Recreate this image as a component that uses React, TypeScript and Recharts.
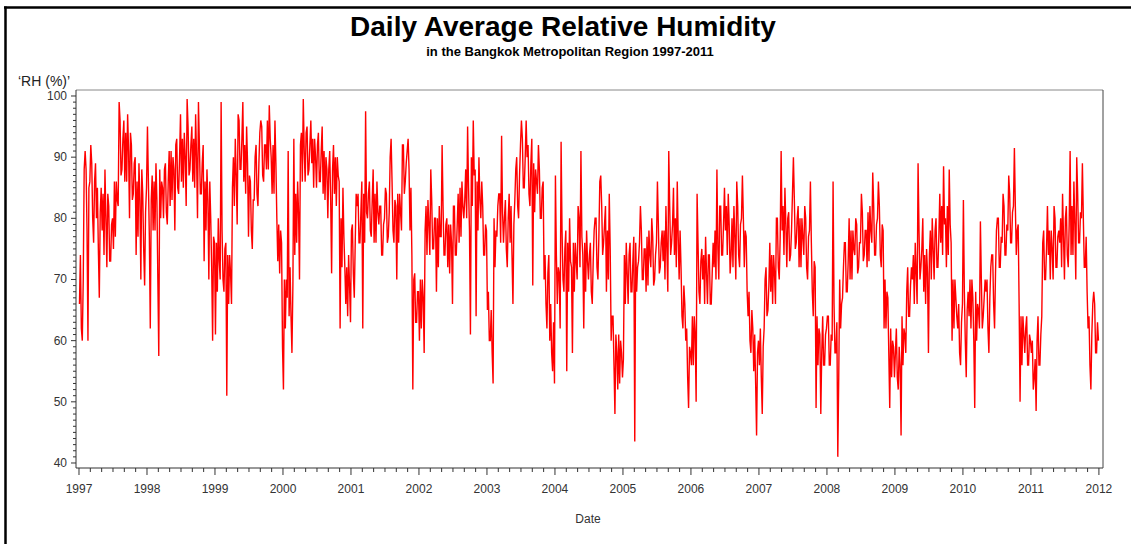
import React from "react";
import { LineChart, Line, XAxis, YAxis } from "recharts";

// Daily average RH, six readings per month, one array per year
const years = [1997, 1998, 1999, 2000, 2001, 2002, 2003, 2004, 2005, 2006, 2007, 2008, 2009, 2010, 2011];

const rh1997 = [
  66, 74, 62, 60, 70, 88, 91, 88, 78, 60, 85, 86, 92, 89, 80, 76, 86, 89, 80, 85, 75, 67, 81, 85,
  78, 84, 74, 88, 80, 72, 84, 82, 73, 73, 79, 80, 75, 86, 77, 86, 83, 82, 99, 96, 87, 88, 93, 96,
  86, 94, 86, 97, 91, 80, 94, 92, 83, 84, 89, 90, 74, 86, 77, 89, 83, 70, 88, 84, 75, 69, 81, 85,
];
const rh1998 = [
  95, 86, 77, 62, 83, 87, 78, 86, 78, 89, 83, 70, 57.5, 88, 80, 86, 85, 80, 88, 89, 81, 79, 86, 91,
  82, 91, 83, 90, 88, 78, 92, 93, 85, 84, 90, 97, 86, 93, 85, 94, 90, 82, 99.5, 95, 87, 88, 92, 95,
  86, 93, 85, 97, 90, 80, 99, 92, 84, 84, 89, 92, 73, 86, 78, 88, 83, 70, 86, 80, 72, 60, 77, 76,
];
const rh1999 = [
  61, 76, 68, 80, 73, 70, 99, 78, 70, 68, 75, 76, 51, 74, 66, 74, 71, 66, 85, 90, 82, 93, 87, 79,
  97, 96, 88, 88, 93, 99, 86, 92, 84, 95, 89, 77, 87, 86, 78, 75, 83, 83, 90, 92, 84, 82, 89, 94,
  96, 95, 87, 86, 92, 92, 88, 96, 88, 98.5, 93, 90, 84, 92, 84, 96, 89, 80, 73, 79, 71, 78, 76, 59,
];
const rh2000 = [
  52, 70, 62, 70, 67, 91, 64, 72, 64, 58, 69, 93, 74, 84, 76, 86, 81, 70, 92, 94, 86, 99.5, 91, 86,
  94, 95, 87, 88, 92, 96, 89, 93, 85, 93, 90, 85, 92, 94, 86, 86, 91, 95, 84, 91, 83, 90, 88, 80,
  88, 91, 83, 71, 88, 92, 84, 90, 82, 90, 87, 86, 62, 80, 72, 85, 77, 72, 66, 72, 64, 74, 69, 63,
];
const rh2001 = [
  78, 79, 71, 67, 76, 84, 82, 84, 76, 76, 81, 86, 62, 84, 76, 97.5, 81, 80, 84, 86, 78, 77, 83, 88,
  76, 84, 76, 86, 81, 79, 82, 82, 74, 74, 79, 80, 85, 84, 76, 77, 81, 90, 93, 86, 78, 76, 83, 82,
  70, 84, 76, 84, 81, 78, 92, 92, 84, 86, 89, 91, 93, 88, 78, 85, 74, 52, 70, 71, 63, 63, 68, 68,
];
const rh2002 = [
  60, 70, 62, 70, 67, 58, 78, 82, 74, 83, 79, 74, 88, 83, 75, 75, 80, 80, 68, 80, 72, 82, 77, 77,
  92, 82, 74, 74, 79, 80, 72, 79, 71, 79, 76, 66, 82, 82, 74, 74, 79, 84, 76, 85, 77, 86, 82, 80,
  83, 88, 80, 95, 85, 78, 61, 90, 82, 96, 87, 88, 64, 86, 78, 90, 83, 80, 86, 82, 74, 74, 79, 78,
];
const rh2003 = [
  65, 68, 60, 60, 65, 58, 53, 80, 72, 78, 77, 82, 84, 84, 76, 93.5, 81, 76, 80, 83, 75, 72, 80, 84,
  76, 82, 74, 66, 79, 83, 88, 90, 82, 80, 87, 92, 96, 93, 85, 85, 90, 96, 90, 92, 84, 82, 89, 93,
  69, 89, 81, 88, 86, 84, 92, 88, 80, 80, 85, 86, 70, 74, 66, 62, 71, 74, 60, 66, 58, 55, 63, 53,
];
const rh2004 = [
  87, 74, 66, 72, 71, 62, 92.5, 78, 70, 68, 75, 78, 55, 76, 68, 80, 73, 72, 58, 76, 68, 76, 73, 70,
  82, 80, 72, 91, 77, 74, 62, 76, 68, 78, 73, 70, 74, 76, 68, 66, 73, 78, 80, 80, 72, 70, 77, 86,
  87, 82, 74, 76, 79, 82, 68, 78, 70, 84, 75, 60, 64, 64, 56, 48, 61, 58, 52, 61, 53, 60, 58, 54,
];
const rh2005 = [
  57, 74, 66, 76, 71, 66, 74, 76, 68, 68, 73, 77, 43.5, 76, 68, 72, 73, 76, 82, 78, 70, 70, 75, 75,
  68, 77, 69, 78, 74, 72, 80, 77, 69, 70, 74, 76, 86, 79, 71, 72, 76, 78, 73, 78, 70, 82, 75, 68,
  91, 82, 74, 76, 79, 85, 74, 80, 72, 86, 77, 70, 78, 72, 64, 62, 69, 66, 60, 62, 54, 49, 59, 58,
];
const rh2006 = [
  56, 64, 56, 64, 61, 50, 84, 76, 68, 66, 73, 75, 70, 74, 66, 77, 71, 66, 74, 74, 66, 66, 71, 76,
  72, 78, 70, 88, 75, 70, 82, 82, 74, 74, 79, 85, 78, 82, 74, 84, 79, 71, 74, 80, 72, 82, 77, 70,
  86, 82, 74, 72, 79, 80, 87, 80, 72, 78, 77, 68, 64, 68, 60, 58, 65, 62, 55, 61, 53, 44.5, 58, 60,
];
const rh2007 = [
  56, 62, 54, 48, 59, 62, 70, 72, 64, 65, 69, 76, 68, 74, 66, 74, 71, 66, 80, 80, 72, 70, 77, 91,
  78, 82, 74, 85, 79, 72, 80, 81, 73, 74, 78, 84, 90, 83, 75, 76, 80, 82, 72, 80, 72, 80, 77, 74,
  82, 80, 72, 70, 77, 78, 86, 76, 68, 64, 73, 72, 49, 64, 56, 62, 61, 48, 58, 64, 56, 56, 61, 62,
];
const rh2008 = [
  64, 64, 56, 56, 61, 60, 86, 66, 58, 58, 63, 41, 54, 70, 62, 66, 67, 72, 76, 76, 68, 68, 73, 80,
  70, 78, 70, 78, 75, 74, 80, 79, 71, 72, 76, 76, 84, 81, 73, 74, 78, 78, 72, 81, 73, 82, 78, 76,
  87.5, 82, 74, 74, 79, 80, 86, 82, 74, 72, 79, 78, 62, 70, 62, 68, 67, 58, 49, 62, 54, 60, 59, 54,
];
const rh2009 = [
  58, 62, 54, 52, 59, 56, 44.5, 64, 56, 62, 61, 58, 68, 72, 64, 64, 69, 72, 70, 74, 66, 76, 71, 66,
  89, 78, 70, 72, 75, 80, 68, 74, 66, 75, 71, 58, 74, 78, 70, 80, 75, 70, 78, 80, 72, 72, 77, 84,
  76, 82, 74, 88.5, 79, 80, 72, 82, 74, 88, 79, 76, 60, 70, 62, 70, 67, 64, 62, 66, 58, 56, 63, 66,
];
const rh2010 = [
  83, 68, 60, 54, 65, 68, 64, 70, 62, 70, 67, 60, 49, 68, 60, 66, 65, 62, 79.5, 70, 62, 64, 67, 70,
  68, 70, 62, 58, 67, 72, 74, 74, 66, 62, 71, 78, 80, 80, 72, 72, 77, 76, 84, 82, 74, 74, 79, 78,
  87, 84, 76, 76, 81, 82, 91.5, 82, 74, 78, 79, 66, 50, 64, 56, 64, 61, 58, 62, 64, 56, 56, 61, 60,
];
const rh2011 = [
  58, 60, 52, 54, 57, 48.5, 60, 64, 56, 56, 61, 64, 76, 78, 70, 70, 75, 82, 74, 78, 70, 78, 75, 70,
  82, 80, 72, 72, 77, 78, 76, 80, 72, 84, 77, 70, 80, 82, 74, 72, 79, 91, 74, 82, 74, 86, 79, 70,
  90, 84, 76, 76, 81, 80, 89, 80, 72, 72, 77, 68, 62, 64, 56, 52, 61, 66, 68, 66, 58, 58, 63, 60,
];

const yearly = [rh1997, rh1998, rh1999, rh2000, rh2001, rh2002, rh2003, rh2004, rh2005, rh2006, rh2007, rh2008, rh2009, rh2010, rh2011];

const yLabels = [40, 50, 60, 70, 80, 90, 100];
const yearTicks = [1997, 1998, 1999, 2000, 2001, 2002, 2003, 2004, 2005, 2006, 2007, 2008, 2009, 2010, 2011, 2012];

const data = years.flatMap((yr, k) =>
  yearly[k].map((v, i) => ({ t: yr + (i + 0.5) / yearly[k].length, rh: v })),
);

// bimonthly minor ticks on the date axis, one-unit minor ticks on RH
const xTicks = yearTicks.flatMap((yr, k) =>
  k === yearTicks.length - 1 ? [yr] : [0, 1, 2, 3, 4, 5].map((m) => yr + m / 6),
);
const yTicks = Array.from({ length: 61 }, (_, i) => 40 + i);

const X_DOMAIN: [number, number] = [1996.956, 2012.06];
const Y_DOMAIN: [number, number] = [39.18, 100.98];
const FONT = "Arial, 'Liberation Sans', Helvetica, sans-serif";
const AXIS = "#333";

function DateTick({ x, y, payload }: any) {
  const v = payload.value as number;
  const yr = Math.round(v);
  const major = Math.abs(v - yr) < 1e-6;
  return (
    <g>
      <line x1={x} x2={x} y1={y} y2={y + (major ? 7 : 4)} stroke={AXIS} strokeWidth={1} />
      {major && (
        <text x={x} y={y + 25} textAnchor="middle" fontSize={12} fontFamily={FONT} fill="#333">
          {yr}
        </text>
      )}
    </g>
  );
}

function RhTick({ x, y, payload }: any) {
  const v = payload.value as number;
  const major = yLabels.includes(v);
  return (
    <g>
      <line x1={x - (major ? 5 : 3)} x2={x} y1={y} y2={y} stroke={AXIS} strokeWidth={1} />
      {major && (
        <text x={x - 9} y={y + 4} textAnchor="end" fontSize={12} fontFamily={FONT} fill="#333">
          {v}
        </text>
      )}
    </g>
  );
}

export default function App() {
  return (
    <div style={{ position: "absolute", left: 0, top: 0, width: 1131, height: 544, background: "#fff" }}>
      <LineChart
        width={1131}
        height={544}
        data={data}
        margin={{ top: 80, right: 18, bottom: 36, left: 16 }}
      >
        <XAxis
          dataKey="t"
          type="number"
          domain={X_DOMAIN}
          ticks={xTicks}
          interval={0}
          height={40}
          tickSize={0}
          tickMargin={0}
          tickLine={false}
          tick={<DateTick />}
          axisLine={{ stroke: AXIS, strokeWidth: 1 }}
          allowDataOverflow
        />
        <XAxis
          xAxisId="top"
          orientation="top"
          dataKey="t"
          type="number"
          domain={X_DOMAIN}
          height={10}
          tick={false}
          tickLine={false}
          axisLine={{ stroke: "#888", strokeWidth: 1 }}
          allowDataOverflow
        />
        <YAxis
          type="number"
          domain={Y_DOMAIN}
          ticks={yTicks}
          interval={0}
          width={60}
          tickSize={0}
          tickMargin={0}
          tickLine={false}
          tick={<RhTick />}
          axisLine={{ stroke: AXIS, strokeWidth: 1 }}
          allowDataOverflow
        />
        <YAxis
          yAxisId="right"
          orientation="right"
          type="number"
          domain={Y_DOMAIN}
          width={10}
          tick={false}
          tickLine={false}
          axisLine={{ stroke: "#444", strokeWidth: 1 }}
          allowDataOverflow
        />
        <Line
          type="linear"
          dataKey="rh"
          stroke="#ff0000"
          strokeWidth={1.4}
          strokeLinejoin="miter"
          dot={false}
          activeDot={false}
          isAnimationActive={false}
        />
      </LineChart>
      <svg
        width={1131}
        height={544}
        style={{ position: "absolute", left: 0, top: 0, pointerEvents: "none" }}
      >
        <line x1={5.5} x2={5.5} y1={6.5} y2={544} stroke="#000" strokeWidth={2.5} />
        <line x1={4} x2={1131} y1={7.5} y2={7.5} stroke="#000" strokeWidth={2.5} />
        <text x={563} y={36} textAnchor="middle" fontSize={28} fontWeight="bold" fontFamily={FONT} fill="#000">
          Daily Average Relative Humidity
        </text>
        <text x={570} y={56} textAnchor="middle" fontSize={13} fontWeight="bold" fontFamily={FONT} fill="#000">
          in the Bangkok Metropolitan Region 1997-2011
        </text>
        <text x={18} y={86} fontSize={14} fontFamily={FONT} fill="#222">
          ‘RH (%)’
        </text>
        <text x={588} y={523} textAnchor="middle" fontSize={12} fontFamily={FONT} fill="#333">
          Date
        </text>
      </svg>
    </div>
  );
}
